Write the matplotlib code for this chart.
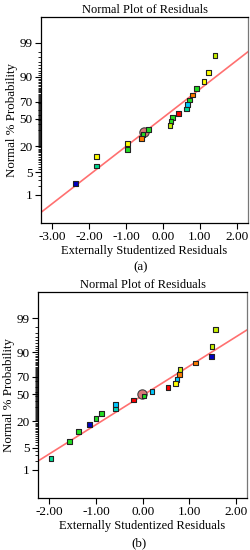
import numpy as np
import matplotlib
matplotlib.use("Agg")
import matplotlib.pyplot as plt
from statistics import NormalDist

plt.rcParams['font.family'] = ['Liberation Serif', 'DejaVu Serif']
plt.rcParams['axes.unicode_minus'] = False

# ---------------- data (panel a) ----------------
res_a = [1.405, 1.224, 1.108, 0.900, 0.803, 0.711, 0.668, 0.630, 0.414, 0.251,
         0.216, 0.189, -0.397, -0.54, -0.576, -0.954, -0.954, -1.792, -1.792, -2.37]
prob_a = [97.4, 92.2, 87.2, 82.2, 76.7, 71.7, 66.8, 61.8, 56.7, 51.8,
          47.0, 41.8, 37.0, 31.5, 26.8, 22.0, 17.0, 12.1, 7.3, 2.4]
col_a = ['#c8f000', '#ffff00', '#ffff00', '#22dd22', '#ff7a00', '#22dd22', '#00c8ff', '#00d890',
         '#ff0000', '#22dd22', '#22dd22', '#c8f000', '#22dd22', '#22dd22', '#ff7a00',
         '#ffff00', '#22dd22', '#ffff00', '#00d890', '#0000c0']
hl_a = (-0.52, 34.0)          # highlighted point (circle)
fit_a = (0.03, 0.88)          # intercept, slope of normal line (z-units)

# ---------------- data (panel b) ----------------
res_b = [1.56, 1.48, 1.474, 1.132, 0.797, 0.791, 0.733, 0.697, 0.541, 0.199,
         0.028, -0.20, -0.59, -0.59, -0.89, -1.00, -1.13, -1.376, -1.56, -1.96]
prob_b = [97.6, 92.7, 87.6, 82.9, 77.6, 72.7, 67.4, 62.4, 57.7, 53.3,
          47.6, 42.7, 37.6, 32.3, 27.3, 22.4, 17.3, 12.4, 7.3, 2.4]
col_b = ['#c8f000', '#c8f000', '#0000c0', '#ff7a00', '#c8f000', '#ff7a00', '#00c8ff', '#ffff00',
         '#ff0000', '#00c8ff', '#22dd22', '#ff0000', '#00c8ff', '#00d8c0', '#22dd22',
         '#22dd22', '#0000c0', '#22dd22', '#22dd22', '#00d890']
hl_b = (-0.02, 49.6)
fit_b = (-0.04, 0.90)

prob_major = [1, 5, 20, 50, 70, 90, 99]
prob_minor = list(range(1, 100))

_nd = NormalDist()
_ppf = np.vectorize(lambda p: _nd.inv_cdf(min(max(p / 100.0, 1e-12), 1 - 1e-12)))
_cdf = np.vectorize(lambda z: _nd.cdf(z) * 100.0)


def fwd(p):
    return _ppf(np.asarray(p, dtype=float))


def inv(z):
    return _cdf(np.asarray(z, dtype=float))


fig = plt.figure(figsize=(2.5, 5.5), dpi=100)


def panel(rect, res, prob, cols, hl, fit, xlim, zlim, xticks, tag, tag_y):
    ax = fig.add_axes(rect)
    ax.set_yscale('function', functions=(fwd, inv))
    ax.set_xlim(*xlim)
    ax.set_ylim(inv(zlim[0]), inv(zlim[1]))
    xs = np.array(xlim)
    ax.plot(xs, inv(fit[0] + fit[1] * xs), color='#ff7070', lw=1.2, zorder=2)
    ax.scatter([hl[0]], [hl[1]], s=45, marker='o', facecolor='#d87878',
               edgecolor='#404040', linewidth=0.8, zorder=3)
    ax.scatter(res, prob, s=12, marker='s', c=cols, edgecolor='#222222',
               linewidth=0.8, zorder=4)
    ax.set_yticks(prob_major)
    ax.set_yticklabels([str(v) for v in prob_major])
    ax.set_yticks(prob_minor, minor=True)
    ax.yaxis.set_minor_formatter(matplotlib.ticker.NullFormatter())
    ax.set_xticks(xticks)
    ax.set_xticklabels(['%.2f' % v for v in xticks])
    ax.tick_params(axis='both', which='major', direction='out', length=4, width=0.8,
                   labelsize=9.5, pad=2)
    ax.tick_params(axis='y', which='minor', direction='out', length=2, width=0.6)
    ax.tick_params(axis='x', which='minor', length=0)
    for s in ax.spines.values():
        s.set_linewidth(0.9)
    ax.spines['right'].set_color('#777777')
    ax.set_title('Normal Plot of Residuals', fontsize=8.9, pad=3)
    ax.set_xlabel('Externally Studentized Residuals', fontsize=9.0, labelpad=1)
    ax.set_ylabel('Normal % Probability', fontsize=9.3, labelpad=1)
    fig.text(rect[0] + rect[2] / 2 - 0.015, tag_y, tag, ha='center',
             va='center', fontsize=9.3)
    return ax


panel([41 / 250, 1 - 223 / 550, 207 / 250, 206 / 550], res_a, prob_a, col_a, hl_a, fit_a,
      (-3.3, 2.3), (-3.2, 3.12), [-3.0, -2.0, -1.0, 0.0, 1.0, 2.0], '(a)', 1 - 267 / 550)
panel([38 / 250, 1 - 498 / 550, 209 / 250, 206 / 550], res_b, prob_b, col_b, hl_b, fit_b,
      (-2.24, 2.23), (-3.19, 3.13), [-2.0, -1.0, 0.0, 1.0, 2.0], '(b)', 1 - 543 / 550)

fig.savefig('out.png', dpi=100)
